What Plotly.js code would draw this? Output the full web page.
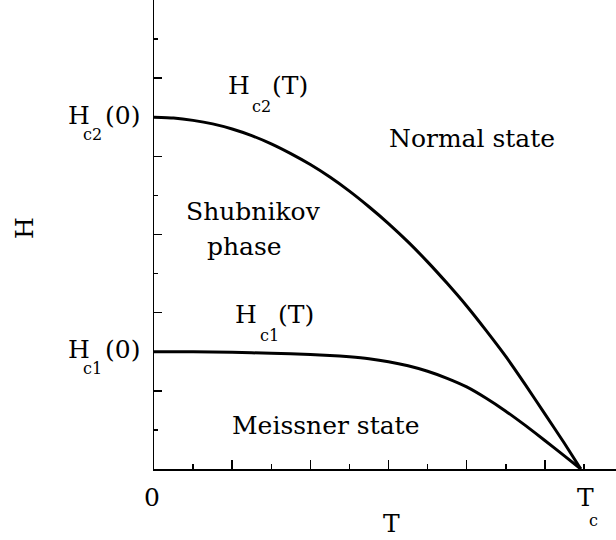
<!DOCTYPE html>
<html>
<head>
<meta charset="utf-8">
<script src="https://cdn.plot.ly/plotly-3.0.1.min.js"></script>
<style>
  html, body { margin: 0; padding: 0; background: #fff; overflow: hidden; }
  #chart { width: 616px; height: 540px; }
</style>
</head>
<body>
<div id="chart"></div>
<script>
// Critical temperature (position on the T axis) and zero-temperature fields
const T_C = 10.92;
const H_C1_0 = 3.0;
const H_C2_0 = 9.0;

// Upper critical field Hc2(T)
const tUpper = [0, 0.5, 1, 1.5, 2, 2.5, 3, 3.5, 4, 4.5, 5, 5.5, 6, 6.5, 7, 7.5, 8, 8.5, 9, 9.5, 10, 10.5, 10.92];
const hUpper = [9.0, 8.98, 8.92, 8.83, 8.70, 8.53, 8.32, 8.07, 7.79, 7.47, 7.11, 6.71, 6.28, 5.81, 5.30, 4.75, 4.17, 3.54, 2.88, 2.16, 1.41, 0.66, 0];

// Lower critical field Hc1(T)
const tLower = [0, 1, 2, 3, 4, 4.5, 5, 5.5, 6, 6.5, 7, 7.5, 8, 8.5, 9, 9.5, 10, 10.5, 10.92];
const hLower = [3.0, 2.997, 2.985, 2.96, 2.93, 2.905, 2.87, 2.82, 2.745, 2.64, 2.50, 2.32, 2.10, 1.81, 1.48, 1.115, 0.73, 0.335, 0];

// Labelled ticks on each axis
const xLabelVals = [0, T_C];
const yLabelVals = [H_C2_0, H_C1_0];
const yLabelSubs = ['c2', 'c1'];

const FONT = 'DejaVu Serif, serif';
const BIG = 25;
const SMALL = 16;

const W = 616, HGT = 540;
const M = { l: 154, r: 0, t: 0, b: 71 };
const PW = W - M.l - M.r, PH = HGT - M.t - M.b;

// convert page pixels to paper coordinates
const px = x => (x - M.l) / PW;
const py = y => (HGT - M.b - y) / PH;

function font(size) { return { family: FONT, size: size, color: '#000' }; }

function txt(text, x, y, size, anchor, extra) {
  return Object.assign({
    text: text, xref: 'paper', yref: 'paper', x: px(x), y: py(y),
    xanchor: anchor || 'left', yanchor: 'middle', showarrow: false,
    borderpad: 0, font: font(size)
  }, extra || {});
}

const annotations = [];

// y-axis labels Hc2(0), Hc1(0), placed at their field values
yLabelVals.forEach((v, i) => {
  const base = { xref: 'paper', yref: 'y', y: v, showarrow: false, yanchor: 'middle', xanchor: 'left', borderpad: 0 };
  annotations.push(Object.assign({}, base, { text: 'H', x: px(67), yshift: 2, font: font(BIG) }));
  annotations.push(Object.assign({}, base, { text: yLabelSubs[i], x: px(82), yshift: -17, font: font(SMALL) }));
  annotations.push(Object.assign({}, base, { text: '(0)', x: px(104), yshift: 2, font: font(BIG) }));
});

// x-axis labels 0 and Tc
annotations.push({ xref: 'x', yref: 'paper', x: xLabelVals[0], y: 0, text: '0', showarrow: false, borderpad: 0,
  xanchor: 'center', yanchor: 'middle', xshift: -2, yshift: -28, font: font(BIG) });
annotations.push({ xref: 'x', yref: 'paper', x: xLabelVals[1], y: 0, text: 'T', showarrow: false, borderpad: 0,
  xanchor: 'left', yanchor: 'middle', xshift: -5, yshift: -28, font: font(BIG) });
annotations.push({ xref: 'x', yref: 'paper', x: xLabelVals[1], y: 0, text: 'c', showarrow: false, borderpad: 0,
  xanchor: 'left', yanchor: 'middle', xshift: 7, yshift: -51, font: font(SMALL) });

// curve labels
annotations.push(txt('H', 227, 86, BIG));
annotations.push(txt('c2', 251, 106, SMALL));
annotations.push(txt('(T)', 271, 86, BIG));
annotations.push(txt('H', 234, 314, BIG));
annotations.push(txt('c1', 259, 335, SMALL));
annotations.push(txt('(T)', 277, 314, BIG));

// region labels
annotations.push(txt('Normal state', 472, 138, BIG, 'center'));
annotations.push(txt('Shubnikov', 253, 212, BIG, 'center'));
annotations.push(txt('phase', 244, 246, BIG, 'center'));
annotations.push(txt('Meissner state', 325, 425, BIG, 'center'));

// axis names
annotations.push(txt('T', 391, 523, BIG, 'center'));
annotations.push(txt('H', 24, 228, BIG, 'center', { textangle: -90 }));

const lineStyle = { color: '#000', width: 3, shape: 'spline', smoothing: 0.5 };

const traces = [
  { x: tUpper, y: hUpper, mode: 'lines', line: lineStyle, hoverinfo: 'skip' },
  { x: tLower, y: hLower, mode: 'lines', line: lineStyle, hoverinfo: 'skip' }
];

const axisCommon = {
  showgrid: false, zeroline: false, showticklabels: false,
  showline: true, linecolor: '#000', linewidth: 1.5,
  ticks: 'inside', tickcolor: '#000', tickwidth: 1.5,
  tick0: 0, dtick: 2
};

const layout = {
  width: W, height: HGT, margin: M,
  paper_bgcolor: '#fff', plot_bgcolor: '#fff',
  showlegend: false,
  xaxis: Object.assign({}, axisCommon, {
    range: [0, PW / (PH / 12)], mirror: true, ticklen: 9,
    minor: { dtick: 1, tick0: 0, ticks: 'inside', ticklen: 5, tickwidth: 1.5, tickcolor: '#000' }
  }),
  yaxis: Object.assign({}, axisCommon, {
    range: [0, 12], mirror: false, ticklen: 8,
    minor: { dtick: 1, tick0: 0, ticks: 'inside', ticklen: 4, tickwidth: 1.5, tickcolor: '#000' }
  }),
  annotations: annotations
};

Plotly.newPlot('chart', traces, layout, { displayModeBar: false, staticPlot: true });
</script>
</body>
</html>
